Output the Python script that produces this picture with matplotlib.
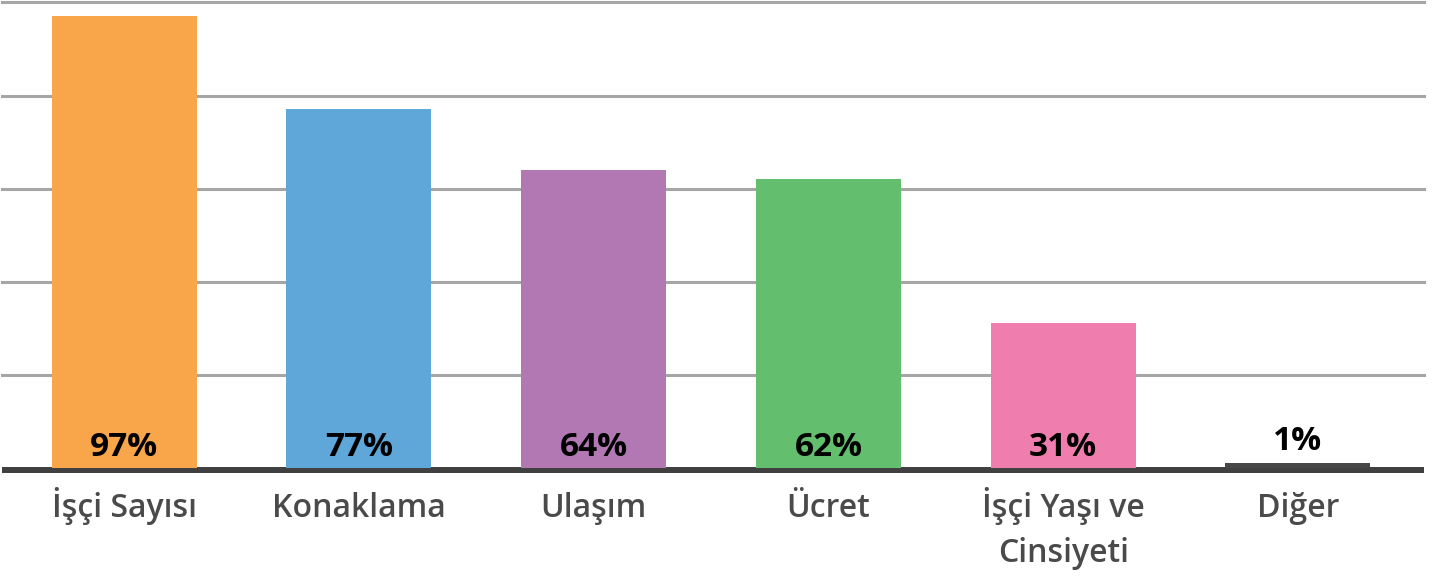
import matplotlib
matplotlib.use("Agg")
import matplotlib.pyplot as plt

categories = ["İşçi Sayısı", "Konaklama", "Ulaşım", "Ücret", "İşçi Yaşı ve\nCinsiyeti", "Diğer"]
values = [97, 77, 64, 62, 31, 1]
value_labels = ["97%", "77%", "64%", "62%", "31%", "1%"]
colors = ["#F9A54A", "#5FA6D9", "#B178B3", "#63BE6E", "#EF7DAD", "#474747"]
yticks = [0, 20, 40, 60, 80, 100]

plt.rcParams['font.family'] = ['Open Sans', 'DejaVu Sans']

W, H = 1434, 579
fig = plt.figure(figsize=(W / 100, H / 100), dpi=100)
ax = fig.add_axes([2 / W, (H - 475) / H, 1422 / W, 475 / H])

x = list(range(len(categories)))
ax.bar(x, values, width=0.618, color=colors, zorder=3)

ax.set_ylim(-(475 - 467.5) / 4.65, 467.5 / 4.65)
ax.set_xlim(-0.52, 5.537)

for t in yticks[1:]:
    ax.axhline(t, color="#A6A6A6", linewidth=2.2, zorder=1, clip_on=False)
ax.axhline(-0.6, color="#404040", linewidth=4.3, zorder=2)

for xi, v, lab in zip(x, values, value_labels):
    base = 0 if v >= 10 else v
    off = 11.5 if v >= 10 else 12.5
    ax.annotate(lab, (xi, base), xytext=(0, off), textcoords="offset pixels",
                ha="center", va="baseline", fontsize=24, fontweight="bold",
                color="black", zorder=4)

for xi, cat in zip(x, categories):
    for i, line in enumerate(cat.split("\n")):
        ax.annotate(line, (xi, 0), xytext=(0, -(49.5 + 45 * i)),
                    textcoords="offset pixels", ha="center", va="baseline",
                    fontsize=23, fontweight="semibold", color="#4A4A4A",
                    annotation_clip=False)

ax.set_xticks([])
ax.set_yticks([])
for s in ax.spines.values():
    s.set_visible(False)

fig.savefig("out.png", dpi=100)
